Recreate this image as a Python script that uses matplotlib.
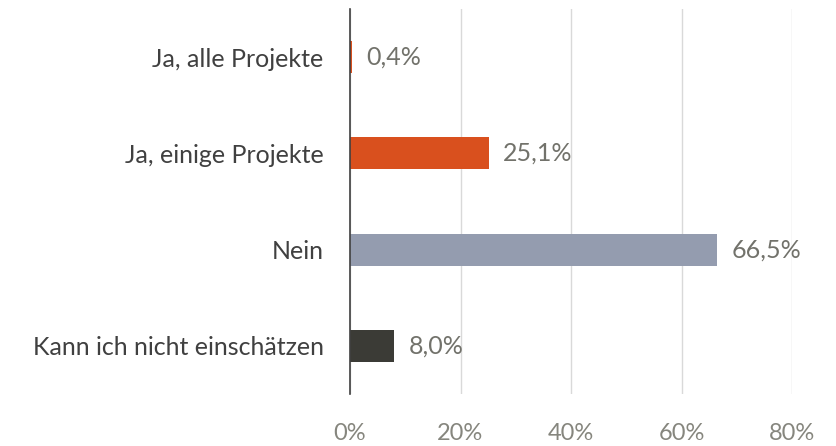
import matplotlib.pyplot as plt

categories = ["Ja, alle Projekte", "Ja, einige Projekte", "Nein", "Kann ich nicht einschätzen"]
values = [0.4, 25.1, 66.5, 8.0]
colors = ["#D9501E", "#D9501E", "#949CAF", "#3B3B36"]
xticks = [0, 20, 40, 60, 80]

plt.rcParams["font.family"] = ["Lato", "DejaVu Sans"]

fig = plt.figure(figsize=(8.36, 4.46), dpi=100)
ax = fig.add_axes([350 / 836, 1 - 394 / 446, 442 / 836, 385 / 446])

pos = range(len(categories))
ax.barh(pos, values, height=0.33, color=colors, zorder=3)

for y, v in zip(pos, values):
    ax.text(v + 2.6, y, f"{v:.1f}%".replace(".", ","), va="center", ha="left",
            fontsize=18, color="#72726B")

ax.set_xlim(0, 80)
ax.set_ylim(3.5, -0.5)
ax.set_yticks(list(pos))
ax.set_yticklabels(categories, fontsize=18, color="#404040")
ax.set_xticks(xticks)
ax.set_xticklabels([f"{t}%" for t in xticks], fontsize=17, color="#86867E")
ax.tick_params(axis="y", length=0, pad=19)
ax.tick_params(axis="x", length=0, pad=21)

ax.grid(axis="x", color="#D9D9D9", linewidth=1, zorder=0)
for s in ["top", "right", "bottom"]:
    ax.spines[s].set_visible(False)
ax.spines["left"].set_color("#404040")
ax.spines["left"].set_linewidth(1.2)
ax.spines["left"].set_zorder(4)

fig.savefig("out.png", dpi=100)
